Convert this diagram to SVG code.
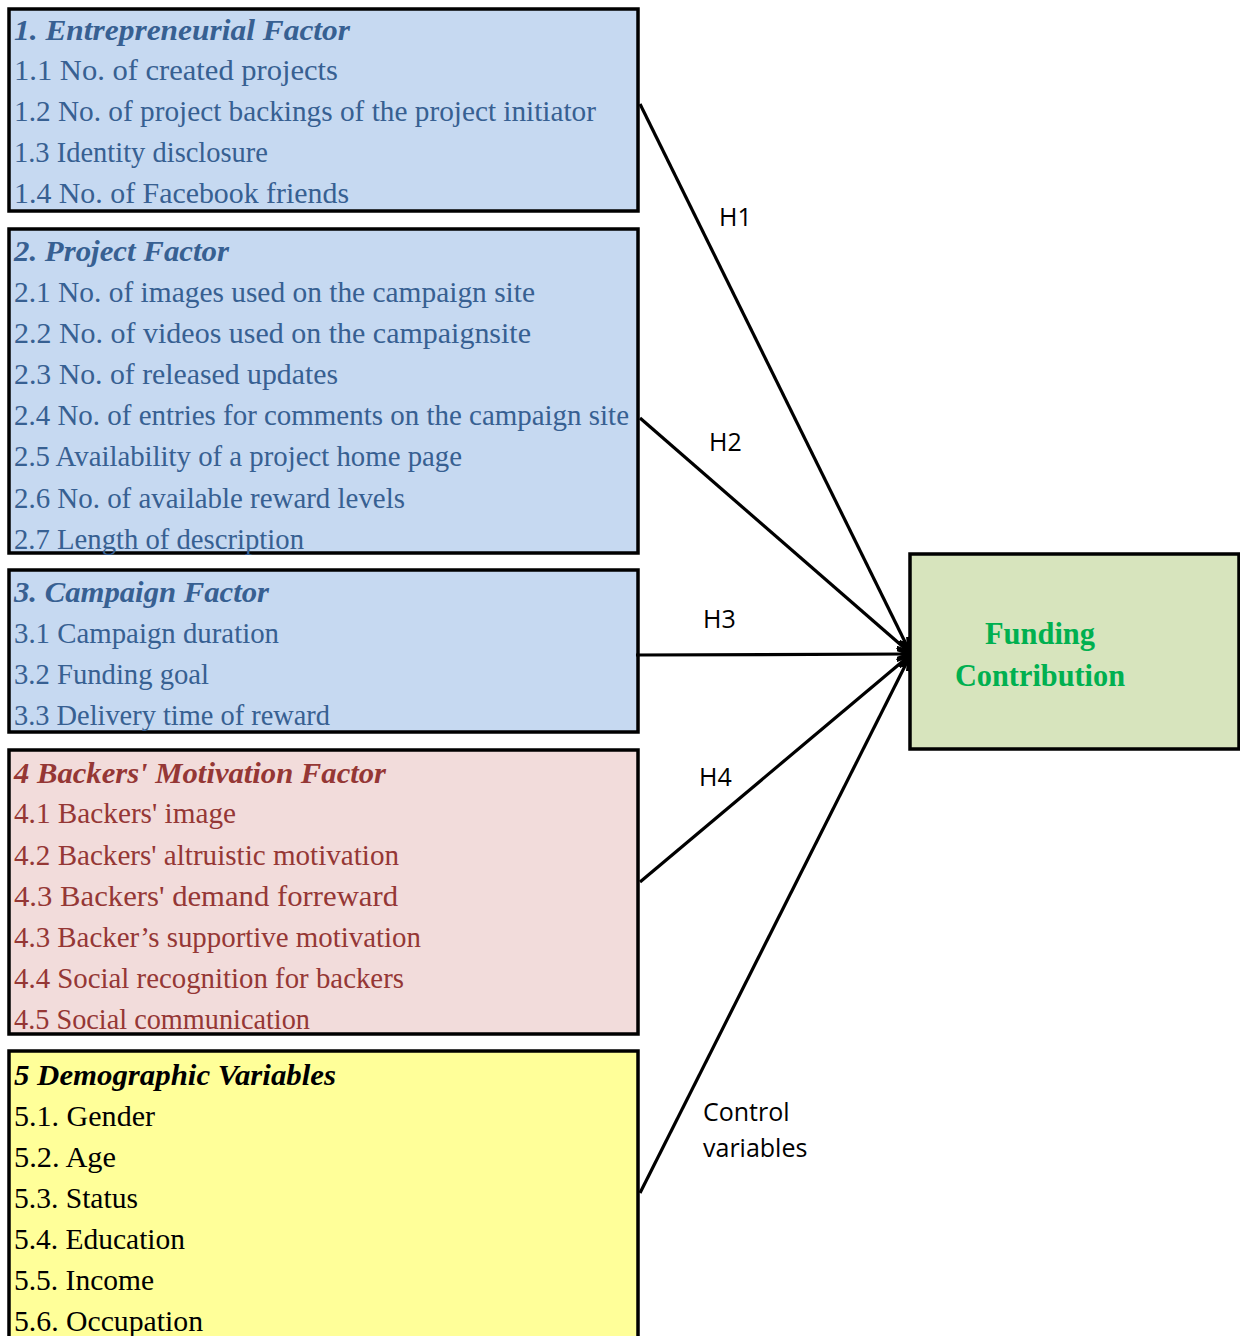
<svg xmlns="http://www.w3.org/2000/svg" width="1240" height="1336" viewBox="0 0 1240 1336">
<style>
.box{stroke:#000;stroke-width:3.5}
.t{font-family:"Liberation Serif","Times New Roman",serif;font-size:30px}
.h{font-weight:bold;font-style:italic}
.blue{fill:#376092}
.red{fill:#953735}
.blk{fill:#000}
.lbl{font-family:"Open Sans","Liberation Sans",sans-serif;font-size:25px;fill:#000}
.con{stroke:#000;stroke-width:3.2;fill:none;marker-end:url(#ah)}
.fc{font-family:"Liberation Serif","Times New Roman",serif;font-size:31px;font-weight:bold;fill:#00B050}
</style>
<defs>
<marker id="ah" viewBox="0 0 10 10" refX="9.5" refY="5" markerWidth="13" markerHeight="13" orient="auto" markerUnits="userSpaceOnUse">
<path d="M0,1.5 L9.5,5 L0,8.5" fill="none" stroke="#000" stroke-width="2.4"/>
</marker>
</defs>
<rect width="1240" height="1336" fill="#fff"/>

<g id="entrepreneurial">
<rect class="box" x="9" y="9" width="629" height="202" fill="#C6D9F1"/>
<text class="t h blue" x="14" y="40" textLength="336" lengthAdjust="spacingAndGlyphs">1. Entrepreneurial  Factor</text>
<text class="t blue" x="14" y="80" textLength="324" lengthAdjust="spacingAndGlyphs">1.1 No.  of created projects</text>
<text class="t blue" x="14" y="121" textLength="582" lengthAdjust="spacingAndGlyphs">1.2 No. of project backings of the project  initiator</text>
<text class="t blue" x="14" y="162" textLength="254" lengthAdjust="spacingAndGlyphs">1.3 Identity disclosure</text>
<text class="t blue" x="14" y="203" textLength="335" lengthAdjust="spacingAndGlyphs">1.4 No. of Facebook friends</text>
</g>

<g id="project">
<rect class="box" x="9" y="229" width="629" height="324" fill="#C6D9F1"/>
<text class="t h blue" x="14" y="261" textLength="215" lengthAdjust="spacingAndGlyphs">2. Project Factor</text>
<text class="t blue" x="14" y="302" textLength="521" lengthAdjust="spacingAndGlyphs">2.1 No. of images  used on the campaign  site</text>
<text class="t blue" x="14" y="343" textLength="517" lengthAdjust="spacingAndGlyphs">2.2 No. of videos used  on the  campaignsite</text>
<text class="t blue" x="14" y="384" textLength="324" lengthAdjust="spacingAndGlyphs">2.3 No. of released updates</text>
<text class="t blue" x="14" y="425" textLength="615" lengthAdjust="spacingAndGlyphs">2.4 No. of entries for comments on the campaign  site</text>
<text class="t blue" x="14" y="466" textLength="448" lengthAdjust="spacingAndGlyphs">2.5 Availability of a project home page</text>
<text class="t blue" x="14" y="508" textLength="391" lengthAdjust="spacingAndGlyphs">2.6 No. of available reward levels</text>
<text class="t blue" x="14" y="549" textLength="290" lengthAdjust="spacingAndGlyphs">2.7 Length of description</text>
</g>

<g id="campaign">
<rect class="box" x="9" y="570" width="629" height="162" fill="#C6D9F1"/>
<text class="t h blue" x="14" y="602" textLength="255" lengthAdjust="spacingAndGlyphs">3. Campaign Factor</text>
<text class="t blue" x="14" y="643" textLength="265" lengthAdjust="spacingAndGlyphs">3.1 Campaign duration</text>
<text class="t blue" x="14" y="684" textLength="195" lengthAdjust="spacingAndGlyphs">3.2 Funding goal</text>
<text class="t blue" x="14" y="725" textLength="316" lengthAdjust="spacingAndGlyphs">3.3 Delivery time of reward</text>
</g>

<g id="motivation">
<rect class="box" x="9" y="750" width="629" height="284" fill="#F2DCDB"/>
<text class="t h red" x="14" y="783" textLength="372" lengthAdjust="spacingAndGlyphs">4 Backers' Motivation Factor</text>
<text class="t red" x="14" y="823" textLength="222" lengthAdjust="spacingAndGlyphs">4.1 Backers' image</text>
<text class="t red" x="14" y="865" textLength="385" lengthAdjust="spacingAndGlyphs">4.2 Backers'  altruistic  motivation</text>
<text class="t red" x="14" y="906" textLength="384" lengthAdjust="spacingAndGlyphs">4.3 Backers'  demand  forreward</text>
<text class="t red" x="14" y="947" textLength="407" lengthAdjust="spacingAndGlyphs">4.3 Backer’s supportive motivation</text>
<text class="t red" x="14" y="988" textLength="390" lengthAdjust="spacingAndGlyphs">4.4 Social recognition for backers</text>
<text class="t red" x="14" y="1029" textLength="296" lengthAdjust="spacingAndGlyphs">4.5 Social communication</text>
</g>

<g id="demographic">
<rect class="box" x="9" y="1051" width="629" height="290" fill="#FFFF99"/>
<text class="t h blk" x="14" y="1085" textLength="322" lengthAdjust="spacingAndGlyphs">5 Demographic Variables</text>
<text class="t blk" x="14" y="1126" textLength="141" lengthAdjust="spacingAndGlyphs">5.1. Gender</text>
<text class="t blk" x="14" y="1167" textLength="102" lengthAdjust="spacingAndGlyphs">5.2. Age</text>
<text class="t blk" x="14" y="1208" textLength="124" lengthAdjust="spacingAndGlyphs">5.3. Status</text>
<text class="t blk" x="14" y="1249" textLength="171" lengthAdjust="spacingAndGlyphs">5.4. Education</text>
<text class="t blk" x="14" y="1290" textLength="140" lengthAdjust="spacingAndGlyphs">5.5. Income</text>
<text class="t blk" x="14" y="1331" textLength="189" lengthAdjust="spacingAndGlyphs">5.6. Occupation</text>
</g>

<g id="funding">
<rect class="box" x="910" y="554" width="329" height="195" fill="#D7E4BD"/>
<text class="fc" x="985" y="644" textLength="110" lengthAdjust="spacingAndGlyphs">Funding</text>
<text class="fc" x="955" y="686" textLength="170" lengthAdjust="spacingAndGlyphs">Contribution</text>
</g>

<g id="connectors">
<line class="con" x1="640" y1="104" x2="909" y2="650"/>
<line class="con" x1="640" y1="418" x2="909" y2="652"/>
<line class="con" x1="636" y1="655" x2="909" y2="654"/>
<line class="con" x1="640" y1="882" x2="909" y2="656"/>
<line class="con" x1="640" y1="1193" x2="909" y2="658"/>
<text class="lbl" x="719" y="226">H1</text>
<text class="lbl" x="709" y="451">H2</text>
<text class="lbl" x="703" y="628">H3</text>
<text class="lbl" x="699" y="786">H4</text>
<text class="lbl" x="703" y="1121">Control</text>
<text class="lbl" x="703" y="1157">variables</text>
</g>
</svg>
